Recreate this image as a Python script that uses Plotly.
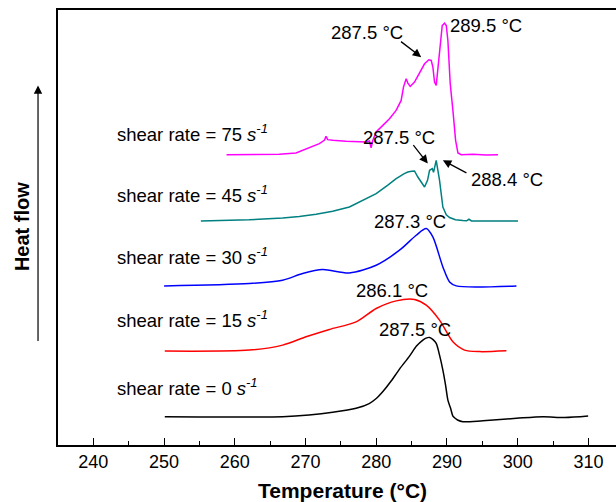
import plotly.graph_objects as go

# ---- data (temperature in °C, heat flow in arbitrary stacked units) ----
t_0 = [250.1, 254.96, 262.0, 266.76, 270.5, 273.84, 277.15, 279.0, 280.0, 281.0, 282.0,
       283.29, 284.7, 285.69, 286.59, 287.04, 287.54, 288.03, 288.48, 288.95, 289.42, 289.8,
       290.13, 290.5, 290.84, 291.2, 291.5, 292.25, 295.08, 299.82, 303.58, 306.66, 309.96]
hf_0 = [28.3, 28, 28, 28.3, 30, 32.7, 36.7, 41.5, 46.5, 54, 63,
        76, 89, 99, 105, 107, 107.7, 105.5, 101.7, 90, 75, 60,
        45, 37, 29, 26.5, 25, 23.3, 24.3, 26.7, 28.3, 27.5, 29]

t_15 = [250.1, 262.04, 266.76, 270.07, 273.37, 277.15, 279.99, 282.82, 285.41, 287.07,
        288.95, 290.84, 292.49, 294.62, 298.4]
hf_15 = [94, 95, 100, 108.3, 115.7, 123.3, 136.7, 144.3, 145.7, 140,
         125, 103.3, 95, 93.5, 94.3]

t_30 = [250.0, 262.04, 266.76, 269.59, 272.42, 276.2, 279.99, 283.29, 285.65, 287.07,
        288.0, 289.42, 290.37, 291.32, 299.82]
hf_30 = [159.3, 161.7, 165, 171.7, 175.7, 172.3, 180, 195, 210, 216.7,
         208.3, 178.3, 163.3, 159.3, 159.3]

t_45 = [255.2, 262.0, 266.76, 269.12, 271.49, 273.84, 276.2, 278.05, 279.99, 281.59, 282.82,
        283.9, 284.46, 285.0, 285.41, 285.88, 286.4, 286.83, 287.25, 287.54, 287.92, 288.1,
        288.48, 288.95, 289.42, 289.9, 290.37, 291.2, 292.25, 292.78, 293.1, 293.48, 300.04]
hf_45 = [224.3, 225.5, 227.3, 228.7, 231, 234, 238.3, 245, 251.7, 260, 266.7,
         271.5, 273.3, 274, 274.3, 268.3, 263, 258.3, 265, 275, 276.7, 273,
         285, 265, 238.3, 230.5, 227.7, 225.5, 224.7, 224.5, 226, 224.3, 224.3]

t_75 = [258.83, 262.51, 266.29, 268.65, 270.54, 271.95, 272.66, 272.90, 273.13, 273.84, 275.73,
        277.62, 278.56, 279.04, 279.27, 279.51, 279.98, 280.93, 281.87, 282.81, 283.52, 283.85,
        284.23, 284.47, 284.80, 285.41, 286.12, 286.83, 287.44, 287.77, 288.01, 288.24, 288.48,
        288.72, 289.05, 289.33, 289.66, 289.90, 290.13, 290.46, 290.84, 291.22, 291.55, 292.02,
        293.67, 295.56, 297.21]
hf_75 = [290.67, 291, 291, 292.33, 297.33, 301.67, 305, 309, 305.67, 305, 304,
         303.33, 303.33, 304.33, 297.5, 305, 313.33, 320, 326.67, 335, 345, 358.33,
         366.67, 362.33, 359, 363.33, 373.33, 381.67, 385.67, 385, 378.33, 363.33, 360,
         378.33, 405, 420, 422.33, 420, 405, 361.67, 335, 305, 292.33, 290.67,
         291, 290.33, 290.67]

series_names = ["0", "15", "30", "45", "75"]
series_colors = ["#000000", "#FF0000", "#0000FF", "#008080", "#FF00FF"]

shear_label_t = 243.06
shear_label_hf = [58.3, 126, 189, 251, 312.5]

peak_texts = ["287.5 °C", "286.1 °C", "287.3 °C", "287.5 °C", "288.4 °C", "287.5 °C", "289.5 °C"]
peak_text_t = [285.53, 282.27, 284.82, 283.17, 298.51, 278.68, 295.47]
peak_text_hf = [115.7, 155, 223.3, 308.3, 265.7, 412.7, 420]

# arrows: (tail_t, tail_hf, head_t, head_hf)
arrows = [(283.29, 405, 286.36, 388.3),
          (285.08, 301.7, 287.29, 281.7),
          (292.96, 271.7, 289.42, 285)]

xticks = [240, 250, 260, 270, 280, 290, 300, 310]

FONT = "Liberation Sans, Arial, sans-serif"

fig = go.Figure()
curves = [(t_0, hf_0, "spline"), (t_15, hf_15, "spline"), (t_30, hf_30, "spline"),
          (t_45, hf_45, "linear"), (t_75, hf_75, "linear")]
for (tx, hy, shp), name, col in zip(curves, series_names, series_colors):
    line = dict(color=col, width=1.5, shape=shp)
    if shp == "spline":
        line["smoothing"] = 0.8
    fig.add_trace(go.Scatter(x=tx, y=hy, mode="lines", line=line, name=name,
                             showlegend=False, hoverinfo="skip"))

ann = []
for name, yv in zip(series_names, shear_label_hf):
    ann.append(dict(x=shear_label_t, y=yv, xref="x", yref="y", xanchor="left", yanchor="middle",
                    text=f"shear rate = {name} <i>s<sup>-1</sup></i>", showarrow=False,
                    font=dict(family=FONT, size=18.5, color="black")))
for txt, tx, ty in zip(peak_texts, peak_text_t, peak_text_hf):
    ann.append(dict(x=tx, y=ty, xref="x", yref="y", xanchor="center", yanchor="middle",
                    text=txt, showarrow=False, font=dict(family=FONT, size=18.5, color="black")))
for (at, ah, ht, hh) in arrows:
    ann.append(dict(x=ht, y=hh, ax=at, ay=ah, xref="x", yref="y", axref="x", ayref="y",
                    text="", showarrow=True, arrowhead=2, arrowsize=1.3, arrowwidth=1.3,
                    arrowcolor="black"))
# Heat flow arrow and label
ann.append(dict(x=-0.0358, y=0.8266, xref="paper", yref="paper", ax=0, ay=257,
                text="", showarrow=True, arrowhead=2, arrowsize=1.4, arrowwidth=1.2,
                arrowcolor="black"))
ann.append(dict(x=-0.0645, y=0.501, xref="paper", yref="paper", xanchor="center", yanchor="middle",
                text="<b>Heat flow</b>", textangle=-90, showarrow=False,
                font=dict(family=FONT, size=20, color="black")))
ann.append(dict(x=0.5095, y=-0.1056, xref="paper", yref="paper", xanchor="center", yanchor="middle",
                text="<b>Temperature (°C)</b>", showarrow=False,
                font=dict(family=FONT, size=21, color="black")))

fig.update_layout(
    width=616, height=502,
    margin=dict(l=58.3, r=0, t=9.5, b=57),
    paper_bgcolor="white", plot_bgcolor="white",
    annotations=ann,
    xaxis=dict(range=[235, 313.9], tickvals=xticks, ticktext=[str(v) for v in xticks],
               ticks="inside", ticklen=7, tickwidth=1.3, tickcolor="black",
               showline=True, linecolor="black", linewidth=1.5, mirror=True,
               showgrid=False, zeroline=False,
               tickfont=dict(family=FONT, size=18, color="black"),
               minor=dict(tickvals=[245, 255, 265, 275, 285, 295, 305], ticks="inside",
                          ticklen=4, tickwidth=1.3, tickcolor="black", showgrid=False)),
    yaxis=dict(range=[0, 435.5], showticklabels=False, ticks="", showline=True,
               linecolor="black", linewidth=1.5, showgrid=False, zeroline=False),
)

fig.write_html("out.html", config={"displayModeBar": False},
               post_script="document.body.style.margin='0';document.body.style.overflow='hidden';")
